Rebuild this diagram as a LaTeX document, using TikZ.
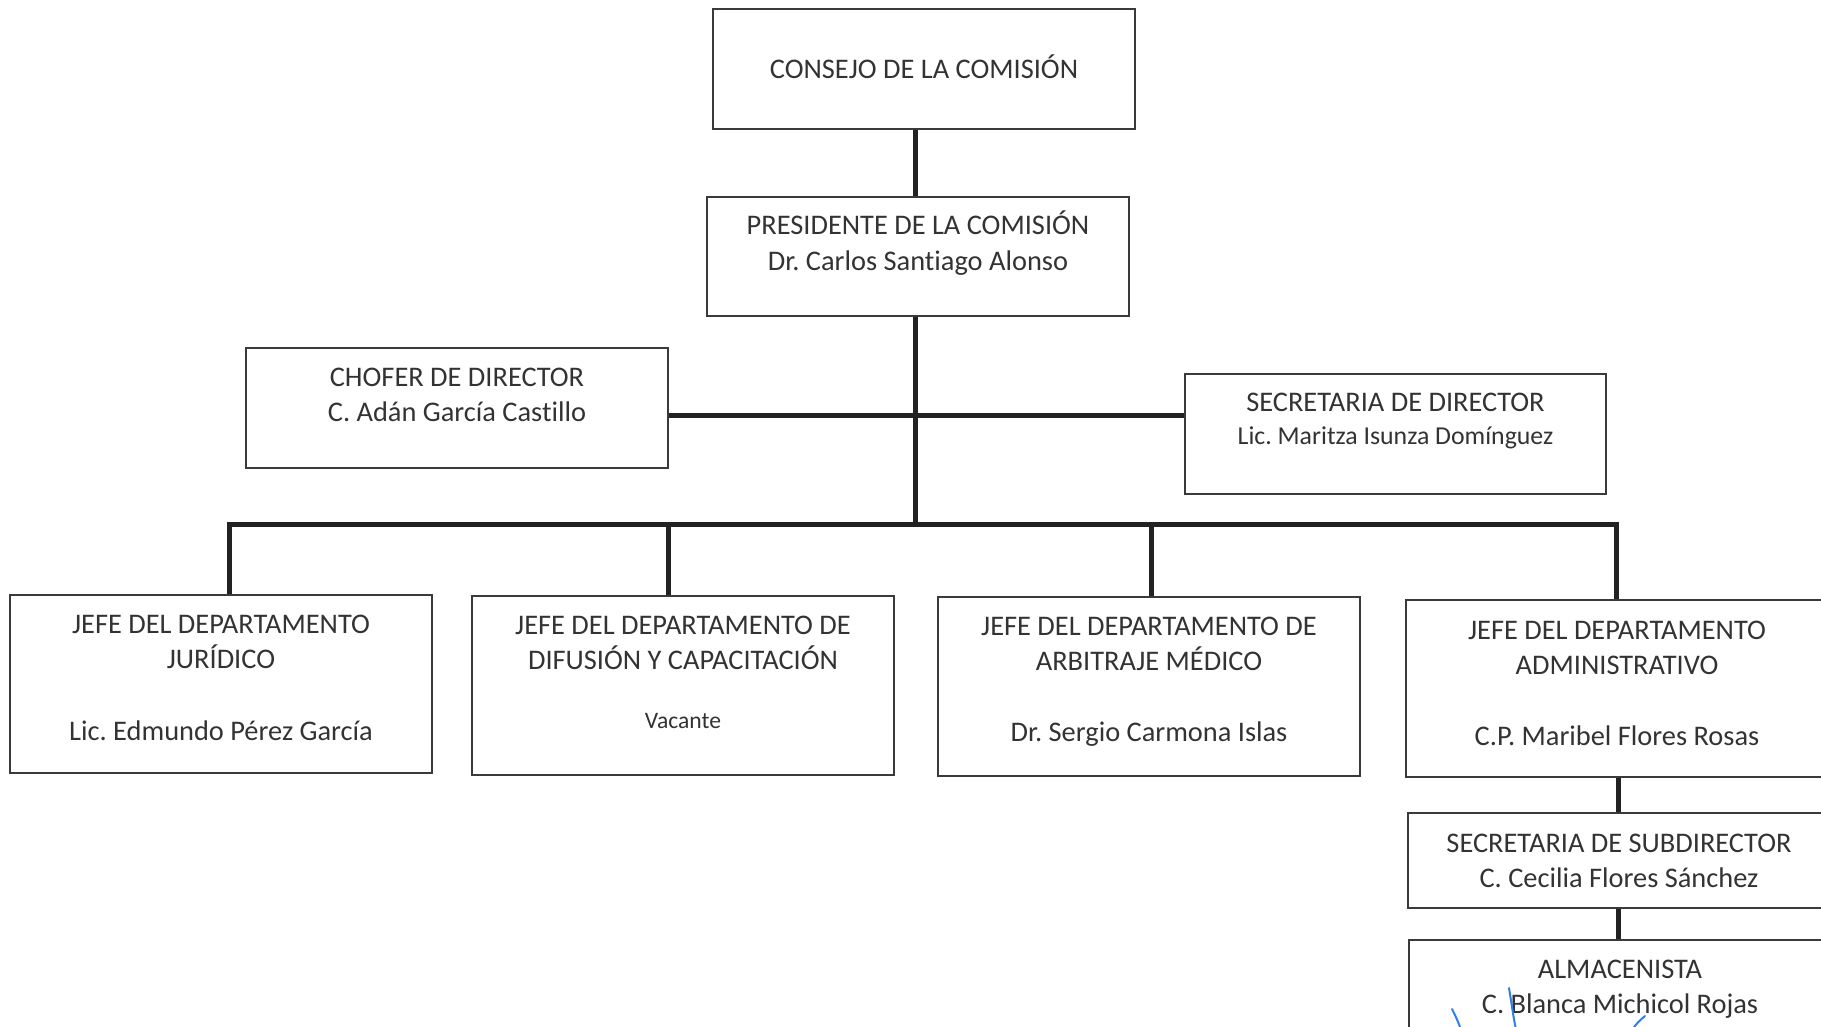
\documentclass[tikz,border=0pt]{standalone}
\usepackage{fontspec}
\setmainfont{Carlito}[Ligatures=NoCommon]
\frenchspacing
\definecolor{boxcol}{HTML}{3A3A3A}
\definecolor{linecol}{HTML}{222222}
\definecolor{txtcol}{HTML}{333333}
\definecolor{inkblue}{HTML}{2F7FE8}
\tikzset{
  orgbox/.style={draw=boxcol, line width=2pt, inner sep=0pt, minimum width=422pt, fill=white},
  txt/.style={anchor=base, inner sep=0pt, text=txtcol, font=\frenchspacing\fontsize{28.4}{35}\selectfont},
  smalltxt/.style={anchor=base, inner sep=0pt, text=txtcol, font=\frenchspacing\fontsize{23.6}{28}\selectfont},
  midtxt/.style={anchor=base, inner sep=0pt, text=txtcol, font=\frenchspacing\fontsize{25.8}{30}\selectfont},
  conn/.style={draw=linecol, line width=5pt, line join=miter},
  ink/.style={draw=inkblue, line width=2pt, line cap=round}
}
\begin{document}
\begin{tikzpicture}[x=1pt,y=-1pt]
\useasboundingbox (0,0) rectangle (1821,1027);
\clip (0,0) rectangle (1821,1027);
\fill[white] (0,0) rectangle (1821,1027);

% coordinates for connector routing
\coordinate (spine) at (915,0);
\coordinate (side) at (0,415);
\coordinate (busL) at (229,524);
\coordinate (d2) at (668,524);
\coordinate (d3) at (1151,524);
\coordinate (busR) at (1616,524);
\coordinate (colR) at (1618,0);

% boxes
\node[orgbox, minimum height=120pt] (consejo) at (924,69) {};
\node[orgbox, minimum height=119pt] (presidente) at (918,256.5) {};
\node[orgbox, minimum height=120pt] (chofer) at (457,408) {};
\node[orgbox, minimum width=421pt, minimum height=120pt] (secdir) at (1395.5,434) {};
\node[orgbox, minimum height=178pt] (jur) at (221,684) {};
\node[orgbox, minimum height=179pt] (dif) at (683,685.5) {};
\node[orgbox, minimum height=179pt] (arb) at (1149,686.5) {};
\node[orgbox, minimum height=177pt] (adm) at (1617,688.5) {};
\node[orgbox, minimum height=95pt] (secsub) at (1619,860.5) {};
\node[orgbox, minimum height=120pt] (alm) at (1620,1000) {};

% connectors
\draw[conn] (consejo.south -| spine) -- (presidente.north -| spine);
\draw[conn] (presidente.south -| spine) -- (busL -| spine);
\draw[conn] (chofer.east |- side) -- (secdir.west |- side);
\draw[conn] (busL |- jur.north) -- (busL) -- (busR) -- (busR |- adm.north);
\draw[conn] (d2) -- (d2 |- dif.north);
\draw[conn] (d3) -- (d3 |- arb.north);
\draw[conn] (adm.south -| colR) -- (secsub.north -| colR);
\draw[conn] (secsub.south -| colR) -- (alm.north -| colR);

% texts
\node[txt] (consejo-t) at (924,79) {CONSEJO DE LA COMISIÓN};
\node[txt] (presidente-t1) at (918,235) {PRESIDENTE DE LA COMISIÓN};
\node[txt] (presidente-t2) at (918,270) {Dr. Carlos Santiago Alonso};
\node[txt] (chofer-t1) at (457,386) {CHOFER DE DIRECTOR};
\node[txt] (chofer-t2) at (457,421) {C. Adán García Castillo};
\node[txt] (secdir-t1) at (1395.5,411) {SECRETARIA DE DIRECTOR};
\node[midtxt] (secdir-t2) at (1395.5,444) {Lic. Maritza Isunza Domínguez};
\node[txt] (jur-t1) at (221,633) {JEFE DEL DEPARTAMENTO};
\node[txt] (jur-t2) at (221,668) {JURÍDICO};
\node[txt] (jur-t3) at (221,740) {Lic. Edmundo Pérez García};
\node[txt] (dif-t1) at (683,634) {JEFE DEL DEPARTAMENTO DE};
\node[txt] (dif-t2) at (683,669) {DIFUSIÓN Y CAPACITACIÓN};
\node[smalltxt] (dif-t3) at (683,728) {Vacante};
\node[txt] (arb-t1) at (1149,635) {JEFE DEL DEPARTAMENTO DE};
\node[txt] (arb-t2) at (1149,670) {ARBITRAJE MÉDICO};
\node[txt] (arb-t3) at (1149,741) {Dr. Sergio Carmona Islas};
\node[txt] (adm-t1) at (1617,639) {JEFE DEL DEPARTAMENTO};
\node[txt] (adm-t2) at (1617,674) {ADMINISTRATIVO};
\node[txt] (adm-t3) at (1617,745) {C.P. Maribel Flores Rosas};
\node[txt] (secsub-t1) at (1619,852) {SECRETARIA DE SUBDIRECTOR};
\node[txt] (secsub-t2) at (1619,887) {C. Cecilia Flores Sánchez};
\node[txt] (alm-t1) at (1620,978) {ALMACENISTA};
\node[txt] (alm-t2) at (1620,1013) {C. Blanca Michicol Rojas};

% signature strokes
\draw[ink] (1452,1009) .. controls (1455,1015) and (1458,1021) .. (1461,1030);
\draw[ink] (1509,988) .. controls (1511,1000) and (1513,1015) .. (1516,1030);
\draw[ink] (1645,1016) .. controls (1640,1020) and (1636,1024) .. (1632,1030);
\end{tikzpicture}
\end{document}
